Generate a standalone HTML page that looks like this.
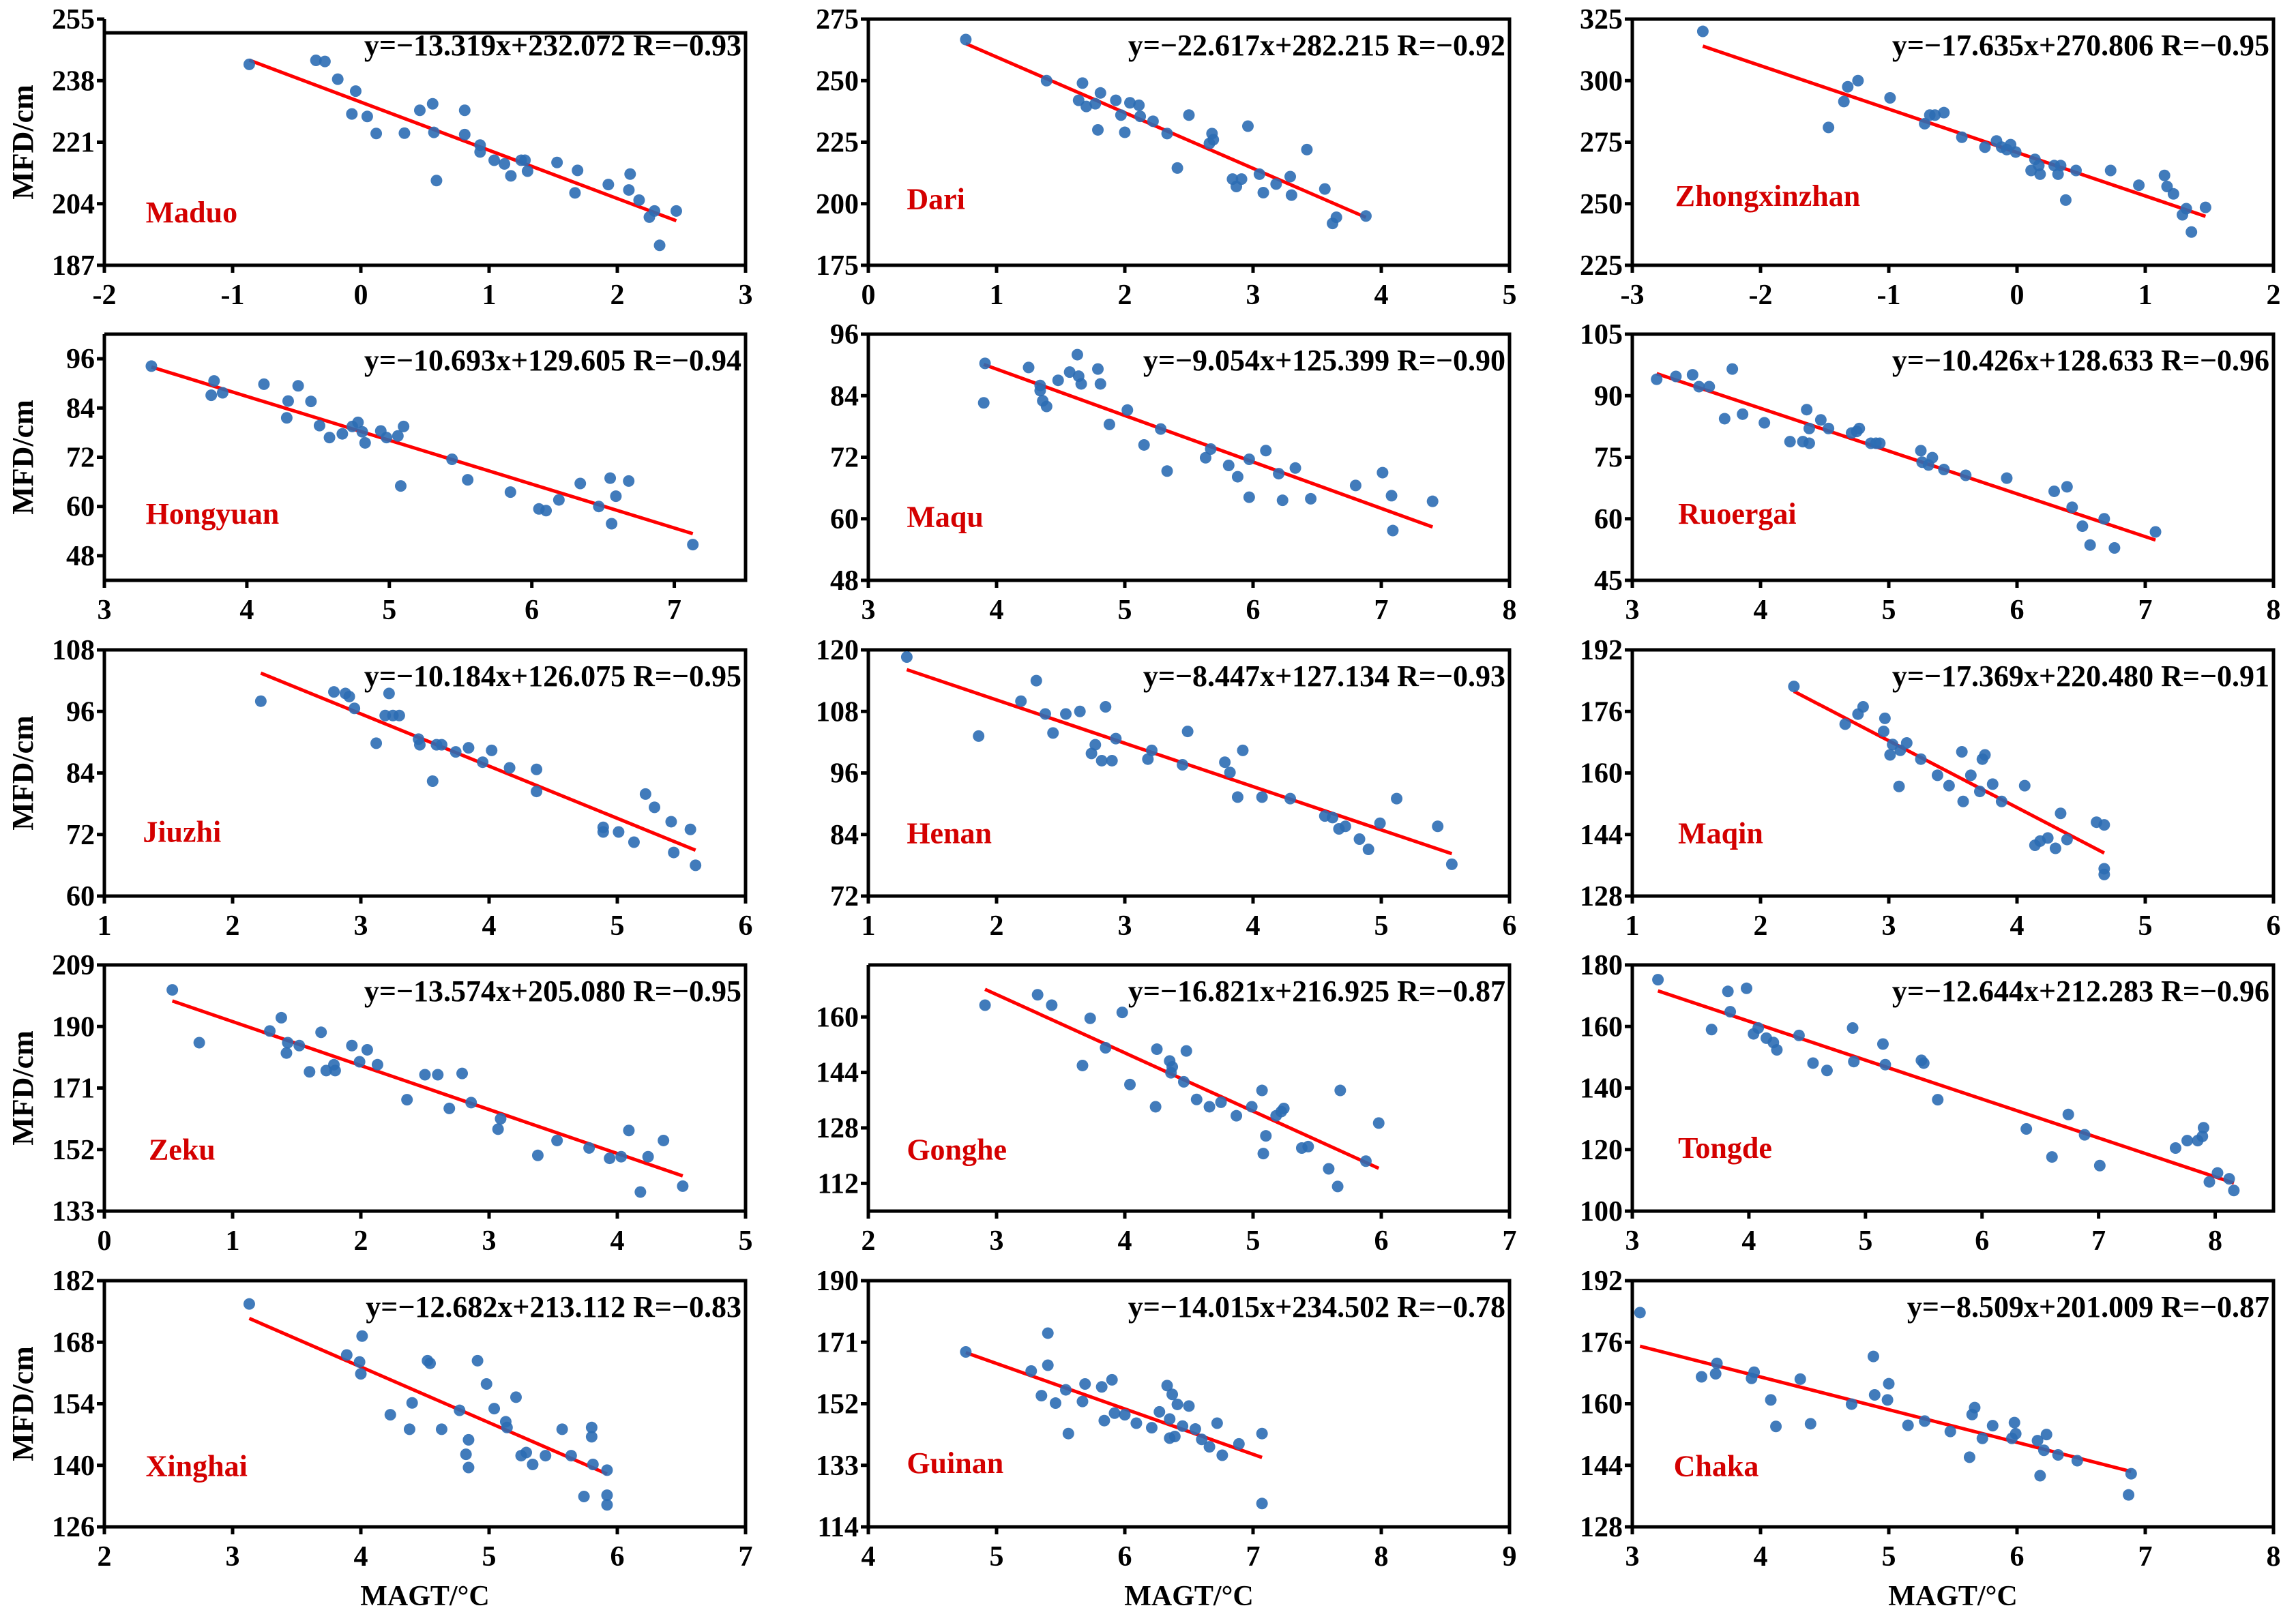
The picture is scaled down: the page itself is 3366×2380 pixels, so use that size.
<!DOCTYPE html>
<html><head><meta charset="utf-8"><style>
html,body{margin:0;padding:0;background:#fff;}
svg{display:block;}
text{font-family:"Liberation Serif","Times New Roman",serif;font-weight:bold;}
</style></head>
<body>
<svg id="chart" xmlns="http://www.w3.org/2000/svg" width="3366" height="2380" viewBox="0 0 3366 2380"></svg>
<script>
const stations=["Maduo","Dari","Zhongxinzhan","Hongyuan","Maqu","Ruoergai","Jiuzhi","Henan","Maqin","Zeku","Gonghe","Tongde","Xinghai","Guinan","Chaka"];
const slopes=[-13.319,-22.617,-17.635,-10.693,-9.054,-10.426,-10.184,-8.447,-17.369,-13.574,-16.821,-12.644,-12.682,-14.015,-8.509];
const intercepts=[232.072,282.215,270.806,129.605,125.399,128.633,126.075,127.134,220.480,205.080,216.925,212.283,213.112,234.502,201.009];
const rValues=[-0.93,-0.92,-0.95,-0.94,-0.90,-0.96,-0.95,-0.93,-0.91,-0.95,-0.87,-0.96,-0.83,-0.78,-0.87];

const maduoX=[-0.87,-0.35,-0.28,-0.18,-0.04,-0.07,0.05,0.12,0.34,0.46,0.56,0.57,0.59,0.81,0.81,0.93,0.93,1.04,1.12,1.17,1.25,1.28,1.3,1.53,1.67,1.69,1.93,2.1,2.09,2.17,2.25,2.29,2.33,2.46];
const maduoY=[242.5,243.6,243.3,238.4,235.1,228.8,228.1,223.4,223.5,229.8,231.6,223.7,210.4,229.8,223.1,220.2,218.3,216,215,211.7,216,216,213,215.4,207,213.2,209.3,212.2,207.8,205,200.3,202,192.5,202];
const dariX=[0.76,1.39,1.64,1.67,1.7,1.77,1.81,1.79,1.93,1.97,2.0,2.04,2.11,2.12,2.22,2.33,2.41,2.5,2.66,2.68,2.69,2.84,2.87,2.91,2.96,3.05,3.08,3.18,3.29,3.3,3.42,3.56,3.62,3.65,3.88];
const dariY=[266.7,250,242,249,239.5,240.6,245,230,242,236,229,241,240,235.5,233.5,228.5,214.5,236,224.5,228.5,226,210,207,210,231.5,212,204.5,208,211,203.5,222,206,192,194.5,195];
const zhongX=[-2.45,-1.47,-1.35,-1.32,-1.24,-0.99,-0.72,-0.68,-0.64,-0.57,-0.43,-0.25,-0.16,-0.12,-0.08,-0.05,-0.01,0.11,0.14,0.17,0.18,0.29,0.34,0.32,0.38,0.46,0.73,0.95,1.15,1.17,1.22,1.29,1.32,1.36,1.47];
const zhongY=[320,281,291.5,297.5,300,293,282.5,286,286,287,277,273,275.5,273,272,274,271,263.5,268,265.5,262,265.5,265.5,262,251.5,263.5,263.5,257.5,261.5,257,254,245.5,248,238.5,248.5];
const hongyuanX=[3.33,3.77,3.75,3.83,4.12,4.29,4.28,4.36,4.45,4.51,4.58,4.67,4.74,4.78,4.81,4.83,4.94,4.98,5.06,5.1,5.08,5.44,5.55,5.85,6.05,6.1,6.19,6.34,6.47,6.55,6.68,6.59,6.56,7.13];
const hongyuanY=[94.2,90.6,87.1,87.7,89.8,85.7,81.6,89.4,85.6,79.7,76.8,77.7,79.5,80.5,78.2,75.5,78.4,76.8,77.2,79.5,65,71.5,66.5,63.5,59.4,59,61.6,65.6,60,66.9,66.2,62.5,55.8,50.7];
const maquX=[3.91,3.9,4.25,4.34,4.36,4.34,4.39,4.48,4.57,4.63,4.64,4.66,4.79,4.81,4.88,5.02,5.15,5.28,5.33,5.63,5.67,5.81,5.88,5.97,5.97,6.1,6.2,6.23,6.33,6.45,6.8,7.01,7.08,7.09,7.4];
const maquY=[90.3,82.6,89.5,86,83,85,81.9,87,88.6,92,87.8,86.3,89.2,86.3,78.4,81.2,74.4,77.5,69.3,71.9,73.6,70.4,68.2,64.2,71.6,73.3,68.8,63.6,69.9,63.9,66.5,69,64.5,57.7,63.4];
const ruoergaiX=[3.19,3.34,3.47,3.52,3.6,3.78,3.72,3.86,4.03,4.23,4.33,4.36,4.38,4.38,4.47,4.53,4.71,4.75,4.77,4.86,4.9,4.93,5.25,5.26,5.31,5.34,5.43,5.6,5.92,6.29,6.39,6.43,6.51,6.57,6.68,6.76,7.08];
const ruoergaiY=[94,94.7,95.1,92.2,92.2,96.5,84.4,85.5,83.4,78.8,78.8,86.6,78.4,82,84.1,82,80.9,81.3,82,78.4,78.4,78.4,76.6,73.8,73.1,74.9,72,70.6,69.9,66.7,67.8,62.8,58.2,53.6,60,52.9,56.8];
const jiuzhiX=[2.22,2.79,2.88,2.95,2.91,3.12,3.19,3.25,3.3,3.22,3.45,3.46,3.59,3.63,3.56,3.74,3.84,3.95,4.02,4.16,4.37,4.37,4.89,4.89,5.01,5.13,5.22,5.29,5.42,5.44,5.57,5.61];
const jiuzhiY=[98,99.8,99.5,96.6,98.9,89.8,95.2,95.2,95.2,99.5,90.6,89.5,89.5,89.5,82.4,88.1,88.9,86.1,88.4,85,84.7,80.4,73.4,72.5,72.5,70.5,79.9,77.3,74.5,68.5,73,66];
const henanX=[1.3,1.86,2.19,2.31,2.38,2.44,2.54,2.65,2.74,2.77,2.82,2.85,2.9,2.93,3.18,3.21,3.45,3.49,3.78,3.82,3.88,3.92,4.07,4.29,4.56,4.62,4.67,4.72,4.83,4.9,4.99,5.12,5.44,5.55];
const henanY=[118.6,103.2,110,114,107.5,103.8,107.5,108,99.8,101.5,98.4,108.9,98.4,102.7,98.7,100.4,97.6,104.1,98.1,96.1,91.3,100.4,91.3,91,87.6,87.3,85.1,85.6,83.1,81.1,86.2,91,85.6,78.2];
const maqinX=[2.26,2.66,2.76,2.8,2.97,2.96,3.01,3.03,3.09,3.14,3.08,3.25,3.38,3.47,3.57,3.58,3.64,3.71,3.73,3.75,3.81,3.88,4.06,4.14,4.18,4.24,4.3,4.34,4.39,4.62,4.68,4.68,4.68];
const maqinY=[182.5,172.7,175.3,177.2,174.2,170.8,164.7,167.4,165.9,167.8,156.5,163.6,159.4,156.7,165.5,152.6,159.4,155.2,163.6,164.7,157.1,152.6,156.7,141.2,142.3,143.1,140.4,149.5,142.7,147.2,146.5,135.1,133.6];
const zekuX=[0.53,0.74,1.29,1.38,1.42,1.43,1.52,1.6,1.69,1.73,1.79,1.8,1.93,1.99,2.05,2.13,2.36,2.5,2.6,2.69,2.79,2.86,3.07,3.09,3.38,3.53,3.78,3.94,4.03,4.09,4.18,4.24,4.36,4.51];
const zekuY=[201.3,185,188.6,192.7,181.8,185,184.1,176,188.2,176.4,178.2,176.4,184.1,179.1,182.8,178.2,167.4,175.1,175.1,164.7,175.5,166.5,158.3,161.5,150.2,154.8,152.5,149.3,149.8,157.9,138.9,149.8,154.8,140.7];
const gongheX=[2.91,3.32,3.43,3.67,3.73,3.85,3.98,4.04,4.25,4.24,4.35,4.37,4.36,4.46,4.48,4.56,4.66,4.75,4.87,4.99,5.07,5.1,5.08,5.18,5.22,5.24,5.38,5.43,5.59,5.66,5.68,5.88,5.98];
const gongheY=[163.4,166.4,163.4,146,159.6,151.1,161.3,140.5,150.7,134.1,147.3,145.6,143.9,141.3,150.2,136.2,134.1,135.4,131.5,134.1,138.8,125.7,120.6,131.5,132.7,133.6,122.2,122.6,116.2,111.1,138.8,118.4,129.4];
const tongdeX=[3.22,3.68,3.82,3.84,3.98,4.04,4.08,4.15,4.21,4.24,4.43,4.55,4.67,4.89,4.9,5.15,5.17,5.48,5.5,5.62,6.38,6.6,6.74,6.88,7.01,7.66,7.76,7.85,7.89,7.9,7.95,8.02,8.12,8.16];
const tongdeY=[175.2,159,171.4,164.8,172.4,157.6,159.5,156.2,154.8,152.4,157.1,148.1,145.7,159.5,148.6,154.3,147.6,149,148.1,136.2,126.7,117.6,131.4,124.8,114.8,120.5,122.9,122.9,124.3,127.1,109.5,112.4,110.5,106.7];
const xinghaiX=[3.13,3.89,4.01,4.0,3.99,4.23,4.38,4.4,4.52,4.54,4.63,4.77,4.82,4.84,4.84,4.91,4.98,5.04,5.13,5.14,5.21,5.25,5.29,5.34,5.44,5.57,5.64,5.74,5.8,5.8,5.81,5.92,5.92,5.92];
const xinghaiY=[176.7,165.1,169.4,160.8,163.5,151.5,148.2,154.2,163.8,163.2,148.2,152.5,142.5,145.8,139.5,163.8,158.5,152.9,149.9,148.6,155.5,142.2,142.9,140.2,142.2,148.2,142.2,132.9,146.5,148.6,140.2,138.9,133.2,131];
const guinanX=[4.76,5.27,5.4,5.4,5.35,5.46,5.54,5.56,5.67,5.69,5.82,5.84,5.9,5.92,6.0,6.09,6.21,6.27,6.33,6.35,6.35,6.37,6.39,6.41,6.45,6.5,6.55,6.6,6.66,6.72,6.76,6.89,7.07,7.07];
const guinanY=[168,162.1,173.8,163.9,154.5,152.2,156.3,142.8,152.7,158.1,157.2,146.8,159.4,149.1,148.6,146,144.6,149.5,157.6,147.3,141.4,154.9,141.9,151.8,145.1,151.3,144.2,141,138.7,146,136.1,139.6,142.8,121.2];
const chakaX=[3.06,3.54,3.65,3.66,3.93,3.95,4.08,4.12,4.31,4.39,4.71,4.88,4.89,4.99,5.0,5.15,5.28,5.48,5.63,5.65,5.67,5.73,5.81,5.96,5.98,5.99,6.16,6.18,6.21,6.23,6.32,6.47,6.87,6.89];
const chakaY=[183.7,167,167.8,170.5,166.6,168.2,161,154.1,166.4,154.8,159.9,172.3,162.3,161,165.2,154.4,155.5,152.8,146.1,157.2,159,151,154.3,151,155.1,152.2,150.4,141.3,147.9,152,146.7,145.2,136.3,141.8];

const seriesX=[maduoX,dariX,zhongX,hongyuanX,maquX,ruoergaiX,jiuzhiX,henanX,maqinX,zekuX,gongheX,tongdeX,xinghaiX,guinanX,chakaX];
const seriesY=[maduoY,dariY,zhongY,hongyuanY,maquY,ruoergaiY,jiuzhiY,henanY,maqinY,zekuY,gongheY,tongdeY,xinghaiY,guinanY,chakaY];

// axis layouts (not data)
const axes=[
 {x:[-2,3],y:[187,255],yt:[187,204,221,238,255],top:251.2,lab:[99,144]},
 {x:[0,5],y:[175,275],yt:[175,200,225,250,275],lab:[616,135]},
 {x:[-3,2],y:[225,325],yt:[225,250,275,300,325],lab:[1138,133]},
 {x:[3,7.5],y:[42,102],yt:[48,60,72,84,96],lab:[99,349]},
 {x:[3,8],y:[48,96],yt:[48,60,72,84,96],lab:[616,351]},
 {x:[3,8],y:[45,105],yt:[45,60,75,90,105],lab:[1140,349]},
 {x:[1,6],y:[60,108],yt:[60,72,84,96,108],lab:[97,565]},
 {x:[1,6],y:[72,120],yt:[72,84,96,108,120],lab:[616,566]},
 {x:[1,6],y:[128,192],yt:[128,144,160,176,192],lab:[1140,566]},
 {x:[0,5],y:[133,209],yt:[133,152,171,190,209],lab:[101,781]},
 {x:[2,7],y:[104,175],yt:[112,128,144,160],lab:[616,781]},
 {x:[3,8.5],y:[100,180],yt:[100,120,140,160,180],lab:[1140,780]},
 {x:[2,7],y:[126,182],yt:[126,140,154,168,182],lab:[99,996]},
 {x:[4,9],y:[114,190],yt:[114,133,152,171,190],lab:[616,994]},
 {x:[3,8],y:[128,192],yt:[128,144,160,176,192],lab:[1137,996]}
];
const colLeft=[153,1273,2393], rowTop=[28,490,953,1415,1878], W=940, H=361;
const NS="http://www.w3.org/2000/svg";
const svg=document.getElementById('chart');
function mk(tag,attrs,parent){const e=document.createElementNS(NS,tag);for(const k in attrs)e.setAttribute(k,attrs[k]);(parent||svg).appendChild(e);return e;}
function fmt(v,d){return (v<0?'\u2212':'')+Math.abs(v).toFixed(d);}

for(let i=0;i<15;i++){
  const a=axes[i], L=colLeft[i%3], T=rowTop[Math.floor(i/3)];
  const sx=v=>L+(v-a.x[0])/(a.x[1]-a.x[0])*W;
  const sy=v=>T+H-(v-a.y[0])/(a.y[1]-a.y[0])*H;
  const g=mk('g',{});
  
  
  const topY=a.top!==undefined?sy(a.top):T;
  // box
  const box=mk('path',{d:`M${L},${T} L${L},${T+H} L${L+W},${T+H} L${L+W},${topY} L${L},${topY}`,fill:'none',stroke:'#000','stroke-width':5},g);
  
  
  // y ticks
  a.yt.forEach(v=>{
    const y=sy(v);
    mk('line',{x1:L-11,x2:L,y1:y,y2:y,stroke:'#000','stroke-width':5},g);
    const t=mk('text',{x:L-14,y:y+14,'text-anchor':'end','font-size':42},g);
    t.textContent=v;
    
    
  });
  // x ticks
  for(let v=Math.ceil(a.x[0]);v<=a.x[1]+1e-9;v++){
    const x=sx(v);
    mk('line',{x1:x,x2:x,y1:T+H,y2:T+H+11,stroke:'#000','stroke-width':5},g);
    const t=mk('text',{x:x,y:T+H+57,'text-anchor':'middle','font-size':42},g);
    t.textContent=v;
    
    
  }
  // regression line
  const xs=seriesX[i], ys=seriesY[i];
  const x0=Math.min(...xs), x1=Math.max(...xs);
  const ln=mk('line',{x1:sx(x0),y1:sy(slopes[i]*x0+intercepts[i]),x2:sx(x1),y2:sy(slopes[i]*x1+intercepts[i]),stroke:'#ff0000','stroke-width':5},g);
  
  
  // points
  for(let k=0;k<xs.length;k++){
    const c=mk('circle',{cx:sx(xs[k]),cy:sy(ys[k]),r:8.5,fill:'#2c6db4','fill-opacity':0.9},g);
    
    
  }
  // equation
  const eq=mk('text',{x:L+W-6,y:T+53,'text-anchor':'end','font-size':44},g);
  eq.textContent='y='+fmt(slopes[i],3)+'x+'+intercepts[i].toFixed(3)+' R='+fmt(rValues[i],2);
  
  
  // station label
  const st=mk('text',{x:a.lab[0]*2.158,y:a.lab[1]*2.158+15,'font-size':44,fill:'#d40000'},g);
  st.textContent=stations[i];
  
  
}
// y axis titles
for(let r=0;r<5;r++){
  const cy=rowTop[r]+H/2;
  const t=mk('text',{x:0,y:0,'text-anchor':'middle','font-size':44,transform:`translate(48,${cy}) rotate(-90)`});
  t.textContent='MFD/cm';
  
  
}
// x axis titles
for(let c=0;c<3;c++){
  const t=mk('text',{x:colLeft[c]+W/2,y:2354,'text-anchor':'middle','font-size':42});
  t.textContent='MAGT/\u00B0C';
  
  
}
</script>
</body></html>
